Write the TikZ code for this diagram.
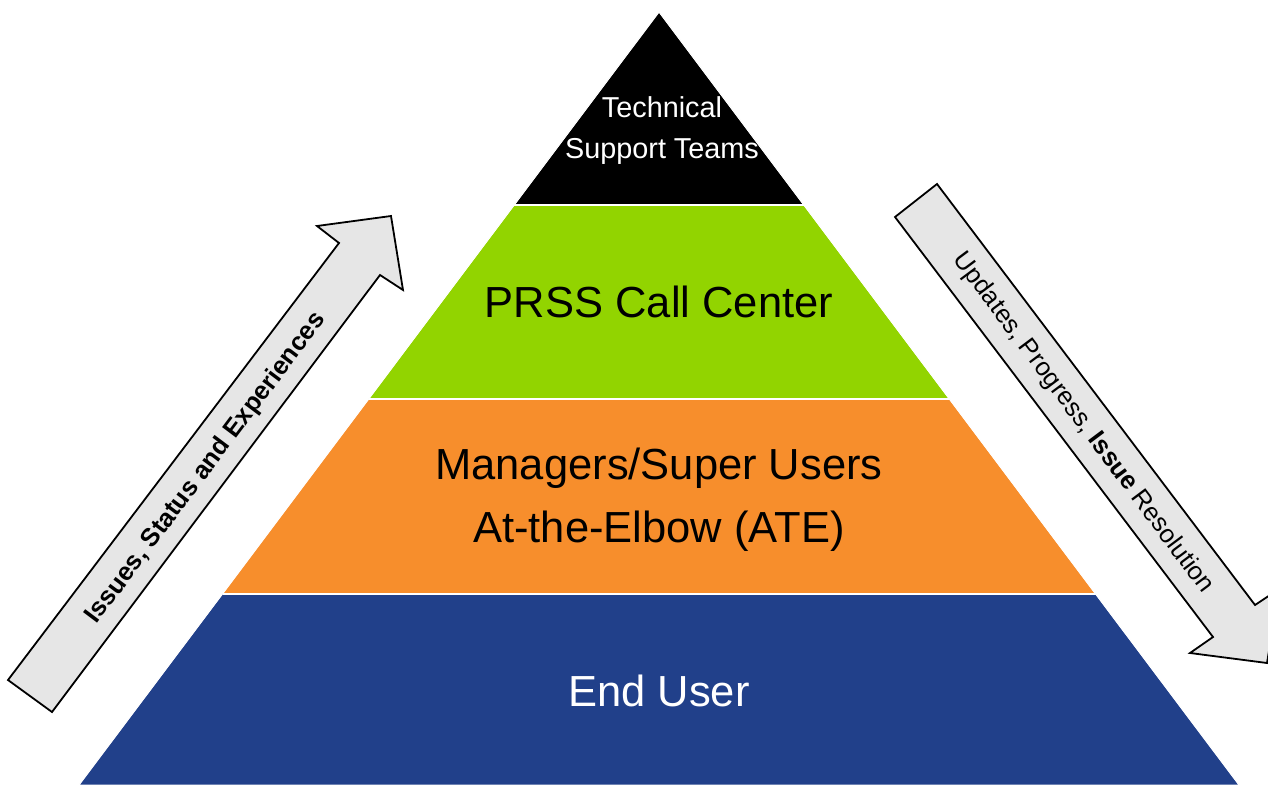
\documentclass[tikz,border=0pt]{standalone}
\usepackage{fontspec}
\setmainfont{Liberation Sans}
\definecolor{techblack}{RGB}{0,0,0}
\definecolor{prssgreen}{RGB}{146,212,0}
\definecolor{mgrorange}{RGB}{247,142,44}
\definecolor{userblue}{RGB}{33,64,138}
\definecolor{arrowgray}{RGB}{230,230,230}
\begin{document}
\begin{tikzpicture}[x=1pt,y=-1pt,
  layer/.style={line width=0.8pt, draw=white},
  sep/.style={draw=white, line width=2.5pt},
  bigarrow/.style={fill=arrowgray, draw=black, line width=1.8pt, line join=miter},
  bigtext/.style={inner sep=0pt, align=center, font=\fontsize{43.5}{63}\selectfont},
  toptext/.style={inner sep=0pt, align=center, font=\fontsize{28.8}{41}\selectfont, text=white},
  arrowtext/.style={inner sep=0pt, font=\fontsize{25.5}{30}\selectfont}
]
\useasboundingbox (0,0) rectangle (1268,784);
\clip (0,0) rectangle (1268,784);

% pyramid corner coordinates
\coordinate (apex) at (659,12);
\coordinate (l1) at (514.2,205);  \coordinate (r1) at (803.8,205);
\coordinate (l2) at (368.75,399); \coordinate (r2) at (949.25,399);
\coordinate (l3) at (222.5,594);  \coordinate (r3) at (1095.5,594);
\coordinate (l4) at (79,785);     \coordinate (r4) at (1239,785);

% layers
\fill[layer, fill=techblack] (apex) -- (r1) -- (l1) -- cycle;
\fill[layer, fill=prssgreen] (l1) -- (r1) -- (r2) -- (l2) -- cycle;
\fill[layer, fill=mgrorange] (l2) -- (r2) -- (r3) -- (l3) -- cycle;
\fill[layer, fill=userblue] (l3) -- (r3) -- (r4) -- (l4) -- cycle;
\draw[white, line width=0.8pt] (l4) -- (apex) -- (r4);
\draw[sep] (l1) -- (r1);
\draw[sep] (l2) -- (r2);
\draw[sep] (l3) -- (r3);

% layer labels
\node[toptext] (tech) at (662,131) {Technical\\Support Teams};
\node[bigtext] (prss) at (659,302) {PRSS Call Center};
\node[bigtext] (mgr) at (659,500) {Managers/Super Users\\At-the-Elbow (ATE)};
\node[bigtext, text=white] (enduser) at (659,691) {End User};

% left (upward) arrow
\coordinate (la1) at (8,680);
\coordinate (la2) at (52,712);
\coordinate (la3) at (380,275);
\coordinate (la4) at (403,290);
\coordinate (la5) at (391,216);
\coordinate (la6) at (317,226);
\coordinate (la7) at (339,243);
\draw[bigarrow] (la1) -- (la2) -- (la3) -- (la4) -- (la5) -- (la6) -- (la7) -- cycle;
\node[arrowtext, rotate=53.06] (uptext) at (206,468) {\bfseries Issues, Status and Experiences};

% right (downward) arrow
\coordinate (ra1) at (895,217);
\coordinate (ra2) at (937,184);
\coordinate (ra3) at (1255,605);
\coordinate (ra4) at (1279,589);
\coordinate (ra5) at (1267,663);
\coordinate (ra6) at (1190,653);
\coordinate (ra7) at (1213,637);
\draw[bigarrow] (ra1) -- (ra2) -- (ra3) -- (ra4) -- (ra5) -- (ra6) -- (ra7) -- cycle;
\node[arrowtext, rotate=-53.2] (downtext) at (1083,423) {Updates, Progress, \textbf{Issue} Resolution};
\end{tikzpicture}
\end{document}
